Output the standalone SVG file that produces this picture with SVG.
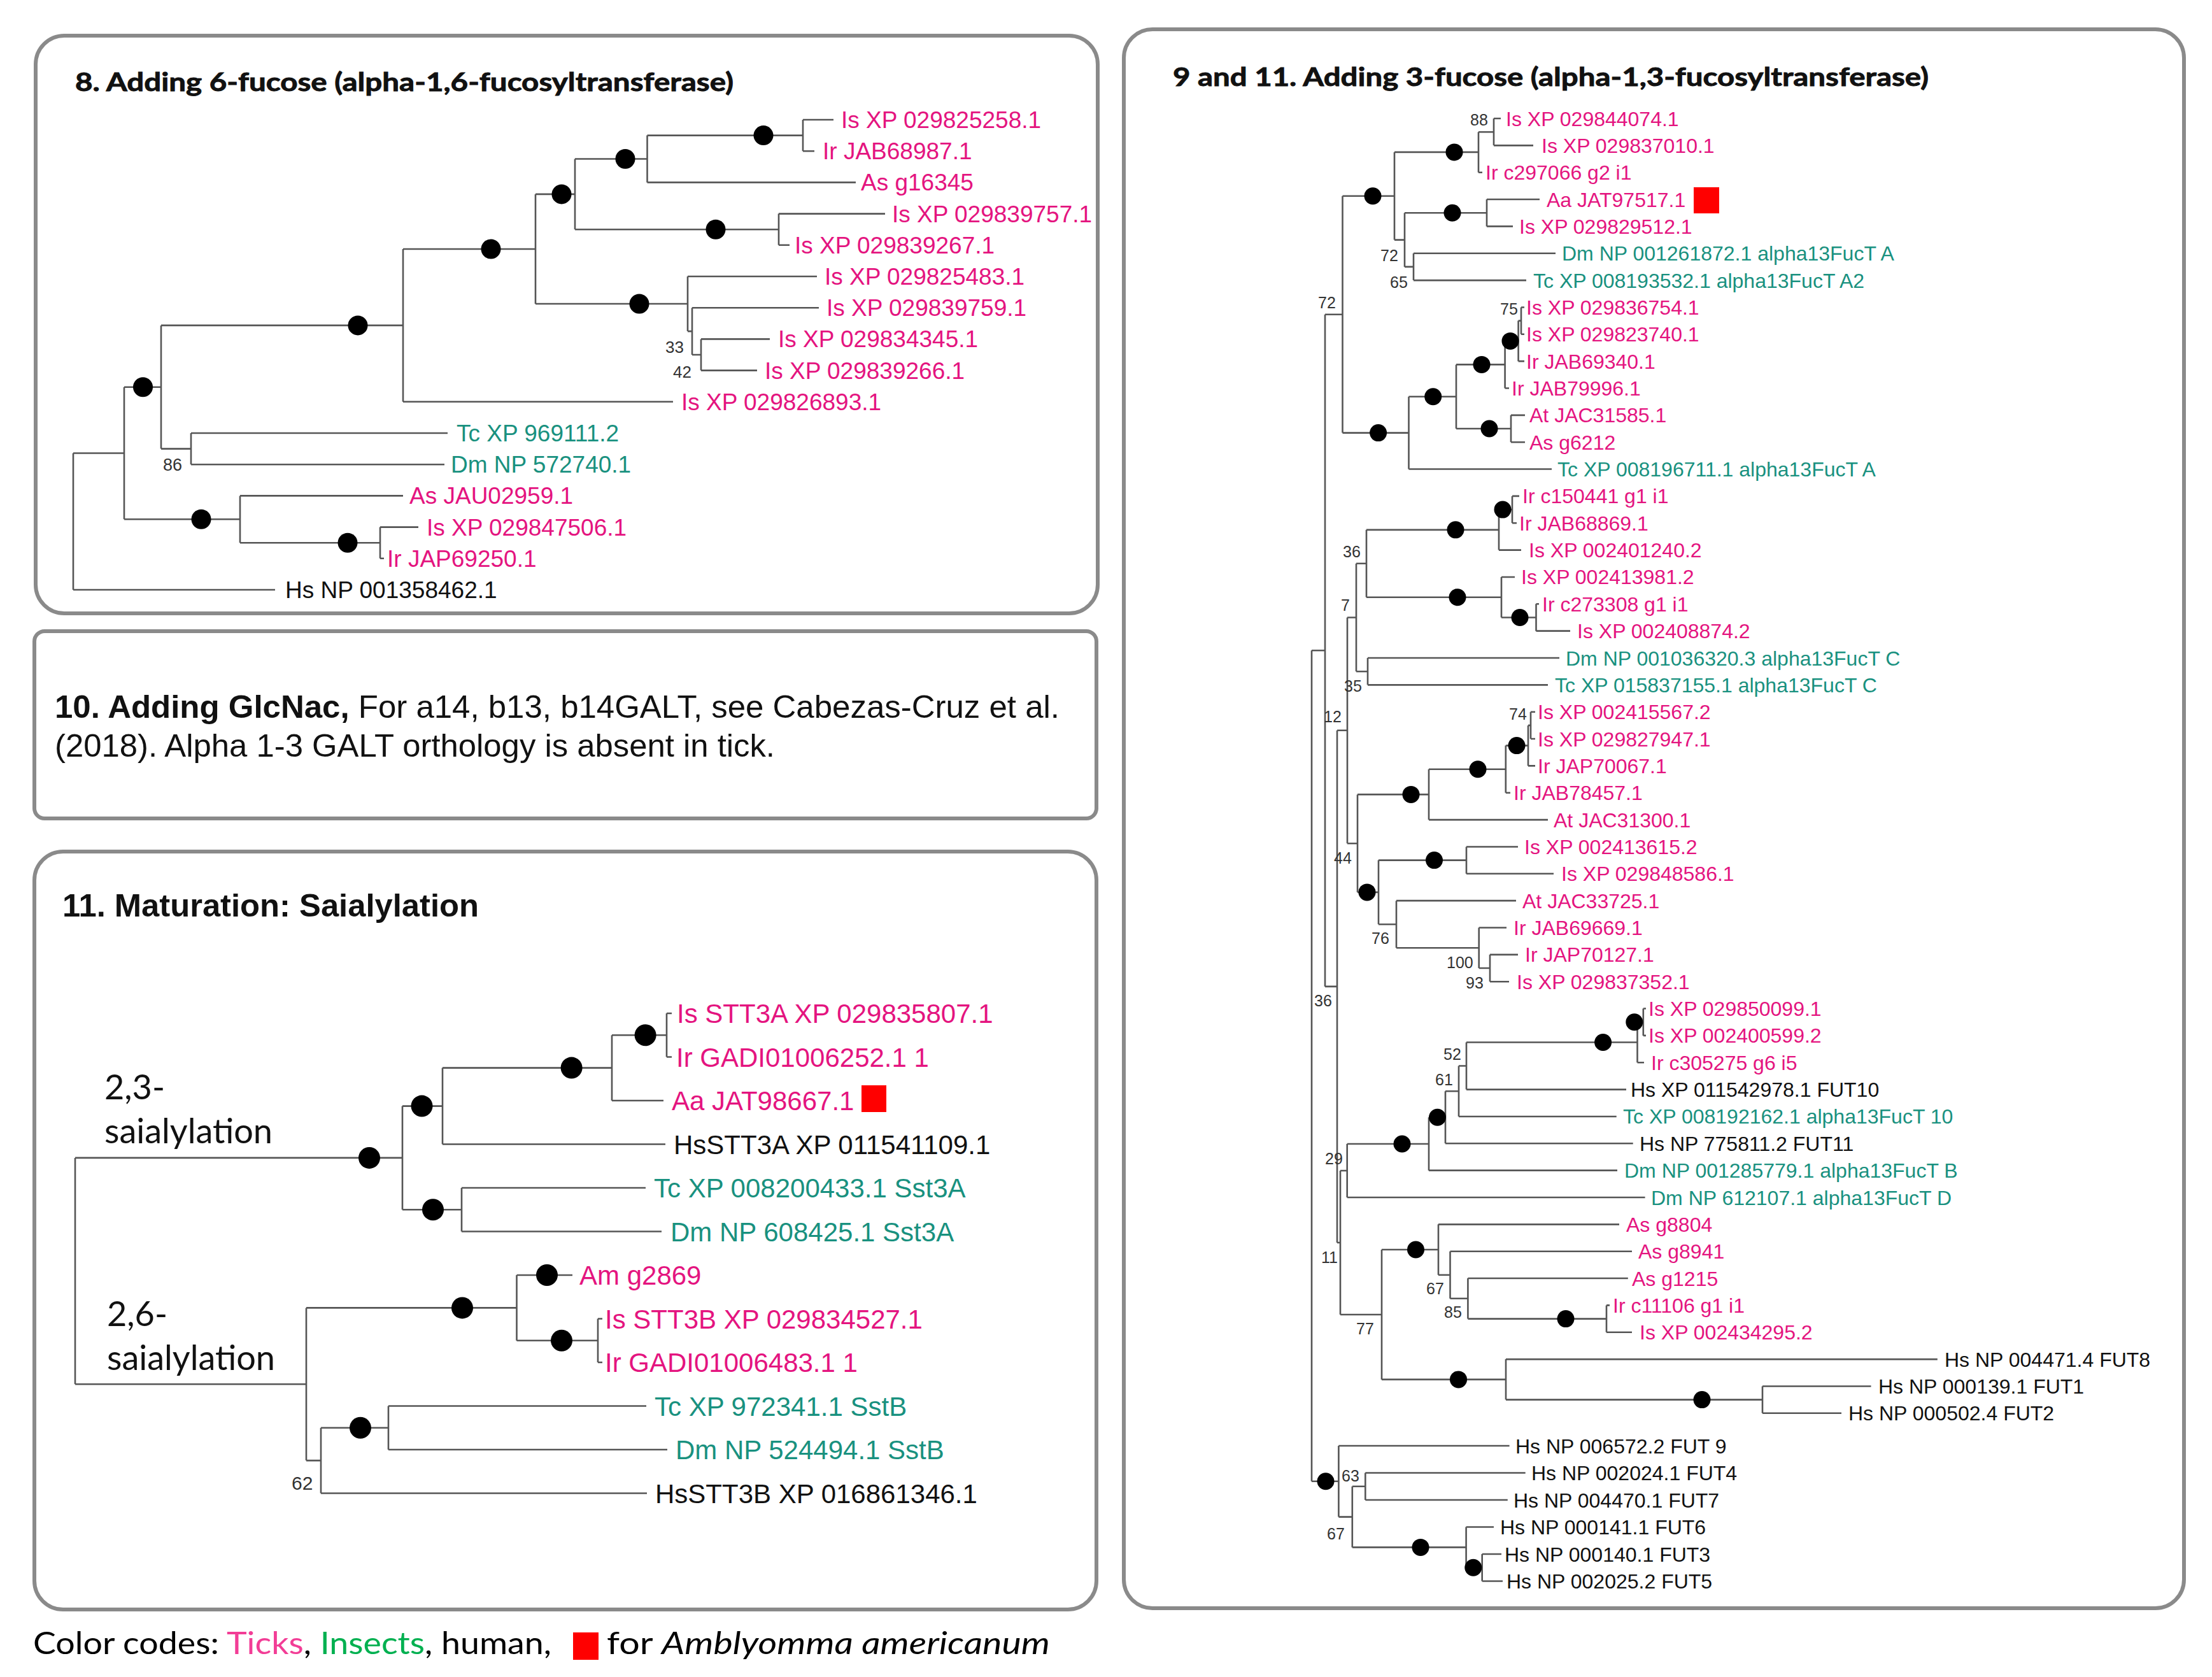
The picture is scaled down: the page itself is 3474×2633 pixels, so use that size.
<svg xmlns="http://www.w3.org/2000/svg" width="3474" height="2633" viewBox="0 0 3474 2633">
<style>
.box{fill:#fff;stroke:#8a8a8a;stroke-width:6}
.br{fill:none;stroke:#555;stroke-width:2.6}
.d{fill:#000}
.sq{fill:#ff0000}
.pk{fill:#e4147f}
.tl{fill:#19917f}
.hs{fill:#111}
.a{font-family:"Liberation Sans",Arial,sans-serif}
.l8{font-size:37px}
.l11{font-size:42px}
.l9{font-size:32px}
.bs{font-family:"Liberation Sans",Arial,sans-serif;fill:#333}
.cal{font-family:Lato,"Open Sans",sans-serif}
.ttl{font-family:Lato,"Open Sans",sans-serif;font-weight:700;font-size:41px;fill:#111;stroke:#111;stroke-width:0.9}
</style>
<rect width="3474" height="2633" fill="#fff"/>

<!-- Panel 8 -->
<g id="panel8">
<rect class="box" x="56" y="56" width="1668" height="907" rx="45"/>
<text id="p8-title" class="ttl" x="118" y="143" textLength="1034" lengthAdjust="spacingAndGlyphs">8. Adding 6-fucose (alpha-1,6-fucosyltransferase)</text>
<g id="p8-connectors">
<path class="br" d="M115 711.5V926M115 926H432M115 711.5H195
M195 607.8V815.3M195 607.8H253M195 815.3H377
M253 510.9V704.6M253 510.9H633M253 704.6H300
M300 680V729.2M300 680H703M300 729.2H698
M633 391V630.8M633 391H841M633 630.8H1057
M841 304.9V477M841 304.9H903M841 477H1080
M903 249.5V360.2M903 249.5H1016.5M903 360.2H1223
M1016.5 212.6V286.4M1016.5 212.6H1261M1016.5 286.4H1344
M1261 188V237.2M1261 188H1309M1261 237.2H1279
M1223 335.6V384.8M1223 335.6H1390M1223 384.8H1240
M1080 434V520.1M1080 434H1283M1080 520.1H1087
M1087 483.2V557M1087 483.2H1286M1087 557H1101
M1101 532.4V581.6M1101 532.4H1209M1101 581.6H1189
M377 778.4V852.2M377 778.4H633M377 852.2H597
M597 827.6V876.8M597 827.6H657M597 876.8H603"/>
</g>
<g id="p8-nodes">
<circle class="d" cx="1199" cy="212.6" r="15.5"/>
<circle class="d" cx="982" cy="249.5" r="15.5"/>
<circle class="d" cx="1124" cy="360.2" r="15.5"/>
<circle class="d" cx="882" cy="304.9" r="15.5"/>
<circle class="d" cx="1004" cy="477" r="15.5"/>
<circle class="d" cx="771" cy="391" r="15.5"/>
<circle class="d" cx="562" cy="510.9" r="15.5"/>
<circle class="d" cx="224.5" cy="607.8" r="15.5"/>
<circle class="d" cx="316" cy="815.3" r="15.5"/>
<circle class="d" cx="546" cy="852.2" r="15.5"/>
<text class="bs" x="256" y="739" font-size="27">86</text>
<text class="bs" x="1045" y="554" font-size="26">33</text>
<text class="bs" x="1057" y="593" font-size="26">42</text>
</g>
<g class="a l8">
<g id="p8-n1"><text class="pk" x="1321" y="201">Is XP 029825258.1</text></g>
<g id="p8-n2"><text class="pk" x="1292" y="250.2">Ir JAB68987.1</text></g>
<g id="p8-n3"><text class="pk" x="1352" y="299.4">As g16345</text></g>
<g id="p8-n4"><text class="pk" x="1401" y="348.6">Is XP 029839757.1</text></g>
<g id="p8-n5"><text class="pk" x="1248" y="397.8">Is XP 029839267.1</text></g>
<g id="p8-n6"><text class="pk" x="1295" y="447">Is XP 029825483.1</text></g>
<g id="p8-n7"><text class="pk" x="1298" y="496.2">Is XP 029839759.1</text></g>
<g id="p8-n8"><text class="pk" x="1222" y="545.4">Is XP 029834345.1</text></g>
<g id="p8-n9"><text class="pk" x="1201" y="594.6">Is XP 029839266.1</text></g>
<g id="p8-n10"><text class="pk" x="1070" y="643.8">Is XP 029826893.1</text></g>
<g id="p8-n11"><text class="tl" x="717" y="693">Tc XP 969111.2</text></g>
<g id="p8-n12"><text class="tl" x="708" y="742.2">Dm NP 572740.1</text></g>
<g id="p8-n13"><text class="pk" x="643" y="791.4">As JAU02959.1</text></g>
<g id="p8-n14"><text class="pk" x="670" y="840.6">Is XP 029847506.1</text></g>
<g id="p8-n15"><text class="pk" x="608" y="889.8">Ir JAP69250.1</text></g>
<g id="p8-n16"><text class="hs" x="448" y="939">Hs NP 001358462.1</text></g>
</g>
</g>

<!-- Panel 10 -->
<g id="panel10">
<rect class="box" x="54" y="991" width="1668" height="294" rx="16"/>
<text class="a" x="86" y="1127" font-size="50" fill="#111" textLength="1578" lengthAdjust="spacingAndGlyphs"><tspan font-weight="700">10. Adding GlcNac,</tspan> For a14, b13, b14GALT, see Cabezas-Cruz et al.</text>
<text class="a" x="86" y="1188" font-size="50" fill="#111" textLength="1131" lengthAdjust="spacingAndGlyphs">(2018). Alpha 1-3 GALT orthology is absent in tick.</text>
</g>

<!-- Panel 11 Sialylation -->
<g id="panel11">
<rect class="box" x="54" y="1337" width="1668" height="1190" rx="45"/>
<text id="p11-title" class="a" x="98" y="1439" font-size="50" font-weight="700" fill="#111" textLength="654" lengthAdjust="spacingAndGlyphs">11. Maturation: Saialylation</text>
<g id="p11-group-labels" class="cal" font-size="54" fill="#111">
<text x="164" y="1726">2,3-</text>
<text x="164" y="1795" textLength="264" lengthAdjust="spacingAndGlyphs">saialylation</text>
<text x="168" y="2082">2,6-</text>
<text x="168" y="2151" textLength="264" lengthAdjust="spacingAndGlyphs">saialylation</text>
</g>
<g id="p11-connectors">
<path class="br" d="M118 1817.9V2173.25M118 1817.9H632M118 2173.25H481
M632 1736.6V1899.25M632 1736.6H695M632 1899.25H725
M695 1676.6V1796.5M695 1676.6H961M695 1796.5H1045
M961 1625.25V1728M961 1625.25H1047M961 1728H1042
M1047 1591V1659.5M1047 1591H1055M1047 1659.5H1055
M725 1865V1933.5M725 1865H1014M725 1933.5H1039
M481 2053.4V2293.1M481 2053.4H811.5M481 2293.1H504
M811.5 2002V2104.75M811.5 2002H899M811.5 2104.75H939
M939 2070.5V2139M939 2070.5H946M939 2139H946
M504 2241.75V2344.5M504 2241.75H610M504 2344.5H1016
M610 2207.5V2276M610 2207.5H1015M610 2276H1048"/>
</g>
<g id="p11-nodes">
<circle class="d" cx="580" cy="1817.9" r="17"/>
<circle class="d" cx="662.5" cy="1736.6" r="17"/>
<circle class="d" cx="897.6" cy="1676.6" r="17"/>
<circle class="d" cx="1013.6" cy="1625.25" r="17"/>
<circle class="d" cx="680" cy="1899.25" r="17"/>
<circle class="d" cx="726" cy="2053.4" r="17"/>
<circle class="d" cx="859" cy="2002" r="17"/>
<circle class="d" cx="882" cy="2104.75" r="17"/>
<circle class="d" cx="566" cy="2241.75" r="17"/>
<text class="bs" x="458" y="2339" font-size="30">62</text>
</g>
<g class="a l11">
<g id="p11-n1"><text class="pk" x="1063" y="1606">Is STT3A XP 029835807.1</text></g>
<g id="p11-n2"><text class="pk" x="1062" y="1674.5">Ir GADI01006252.1 1</text></g>
<g id="p11-n3"><text class="pk" x="1055" y="1743">Aa JAT98667.1</text><rect class="sq" x="1353" y="1704" width="39" height="42"/></g>
<g id="p11-n4"><text class="hs" x="1058" y="1811.5">HsSTT3A XP 011541109.1</text></g>
<g id="p11-n5"><text class="tl" x="1027" y="1880">Tc XP 008200433.1 Sst3A</text></g>
<g id="p11-n6"><text class="tl" x="1053" y="1948.5">Dm NP 608425.1 Sst3A</text></g>
<g id="p11-n7"><text class="pk" x="910" y="2017">Am g2869</text></g>
<g id="p11-n8"><text class="pk" x="950" y="2085.5">Is STT3B XP 029834527.1</text></g>
<g id="p11-n9"><text class="pk" x="950" y="2154">Ir GADI01006483.1 1</text></g>
<g id="p11-n10"><text class="tl" x="1028" y="2222.5">Tc XP 972341.1 SstB</text></g>
<g id="p11-n11"><text class="tl" x="1061" y="2291">Dm NP 524494.1 SstB</text></g>
<g id="p11-n12"><text class="hs" x="1029" y="2359.5">HsSTT3B XP 016861346.1</text></g>
</g>
</g>

<!-- Panel 9 and 11 -->
<g id="panel9">
<rect class="box" x="1765" y="46" width="1665" height="2479" rx="45"/>
<text id="p9-title" class="ttl" x="1842" y="135" textLength="1187" lengthAdjust="spacingAndGlyphs">9 and 11. Adding 3-fucose (alpha-1,3-fucosyltransferase)</text>
<g id="p9-connectors">
<path class="br" d="M2060 1021.3V2325.8M2060 1021.3H2081M2060 2325.8H2102.4
M2081 493.7V1548.9M2081 493.7H2108.5M2081 1548.9H2100
M2108.5 307.7V679.6M2108.5 307.7H2190M2108.5 679.6H2212.5
M2190 238.9V376.6M2190 238.9H2322M2190 376.6H2206
M2322 207.2V270.7M2322 207.2H2346M2322 270.7H2328
M2346 186V228.35M2346 186H2357M2346 228.35H2408
M2206 334.2V418.9M2206 334.2H2335M2206 418.9H2220
M2335 313.05V355.4M2335 313.05H2418M2335 355.4H2376
M2220 397.75V440.1M2220 397.75H2443M2220 440.1H2397
M2212.5 622.7V736.55M2212.5 622.7H2287M2212.5 736.55H2437
M2287 572.4V673M2287 572.4H2363.6M2287 673H2373
M2363.6 535.4V609.5M2363.6 535.4H2384.6M2363.6 609.5H2370
M2384.6 503.6V567.15M2384.6 503.6H2389M2384.6 567.15H2394
M2389 482.45V524.8M2389 482.45H2394M2389 524.8H2394
M2373 651.85V694.2M2373 651.85H2395M2373 694.2H2395
M2100 1146.8V1951M2100 1146.8H2116M2100 1951H2105
M2116 969.5V1324.2M2116 969.5H2130M2116 1324.2H2132
M2130 884.8V1054.2M2130 884.8H2146M2130 1054.2H2148
M2146 831.85V937.7M2146 831.85H2354M2146 937.7H2358
M2354 800.1V863.6M2354 800.1H2375M2354 863.6H2389
M2375 778.9V821.25M2375 778.9H2386M2375 821.25H2382
M2358 905.95V969.5M2358 905.95H2379M2358 969.5H2412.5
M2412.5 948.3V990.65M2412.5 948.3H2417M2412.5 990.65H2466
M2148 1033V1075.35M2148 1033H2449M2148 1075.35H2431
M2132 1247.4V1400.9M2132 1247.4H2244M2132 1400.9H2165
M2244 1207.7V1287.1M2244 1207.7H2364.8M2244 1287.1H2431
M2364.8 1170.6V1244.75M2364.8 1170.6H2400M2364.8 1244.75H2372
M2400 1138.9V1202.4M2400 1138.9H2404M2400 1202.4H2411
M2404 1117.7V1160.05M2404 1117.7H2411M2404 1160.05H2411
M2165 1350.6V1451.2M2165 1350.6H2303M2165 1451.2H2193
M2303 1329.45V1371.8M2303 1329.45H2384M2303 1371.8H2440
M2193 1414.15V1488.3M2193 1414.15H2381M2193 1488.3H2322.7
M2322.7 1456.5V1520M2322.7 1456.5H2366M2322.7 1520H2340
M2340 1498.85V1541.2M2340 1498.85H2384M2340 1541.2H2370
M2105 1838V2064M2105 1838H2115.7M2105 2064H2170
M2115.7 1796V1880M2115.7 1796H2244M2115.7 1880H2583.6
M2244 1754.3V1837.65M2244 1754.3H2270M2244 1837.65H2540
M2270 1713.2V1795.3M2270 1713.2H2291M2270 1795.3H2564.7
M2291 1673.5V1752.95M2291 1673.5H2303M2291 1752.95H2538.7
M2303 1636.5V1710.6M2303 1636.5H2571.5M2303 1710.6H2554
M2571.5 1604.7V1668.25M2571.5 1604.7H2580.8M2571.5 1668.25H2582
M2580.8 1583.55V1625.9M2580.8 1583.55H2585M2580.8 1625.9H2585
M2170 1962V2165.9M2170 1962H2259M2170 2165.9H2365
M2259 1922.35V2001.75M2259 1922.35H2543M2259 2001.75H2277.5
M2277.5 1964.7V2038.8M2277.5 1964.7H2563M2277.5 2038.8H2305.4
M2305.4 2007.05V2070.6M2305.4 2007.05H2556.8M2305.4 2070.6H2523
M2523 2049.4V2091.75M2523 2049.4H2528M2523 2091.75H2563
M2365 2134.1V2197.6M2365 2134.1H3042.8M2365 2197.6H2768
M2768 2176.45V2218.8M2768 2176.45H2938.5M2768 2218.8H2892
M2102.4 2270V2381.6M2102.4 2270H2370.6M2102.4 2381.6H2123.8
M2123.8 2333.75V2429.4M2123.8 2333.75H2144.3M2123.8 2429.4H2302.6
M2144.3 2312.5V2355M2144.3 2312.5H2395.7M2144.3 2355H2367.8
M2302.6 2397.5V2461.25M2302.6 2397.5H2346M2302.6 2461.25H2327.7
M2327.7 2440V2482.5M2327.7 2440H2358M2327.7 2482.5H2360"/>
</g>
<g id="p9-nodes">
<circle class="d" cx="2284" cy="238.9" r="13.5"/>
<circle class="d" cx="2281" cy="334.2" r="13.5"/>
<circle class="d" cx="2156" cy="307.7" r="13.5"/>
<circle class="d" cx="2372" cy="535.4" r="13.5"/>
<circle class="d" cx="2327" cy="572.4" r="13.5"/>
<circle class="d" cx="2339" cy="673" r="13.5"/>
<circle class="d" cx="2250.7" cy="622.7" r="13.5"/>
<circle class="d" cx="2164.6" cy="679.6" r="13.5"/>
<circle class="d" cx="2360" cy="800.1" r="13.5"/>
<circle class="d" cx="2286" cy="831.85" r="13.5"/>
<circle class="d" cx="2387" cy="969.5" r="13.5"/>
<circle class="d" cx="2289" cy="937.7" r="13.5"/>
<circle class="d" cx="2382" cy="1170.6" r="13.5"/>
<circle class="d" cx="2321" cy="1207.7" r="13.5"/>
<circle class="d" cx="2216" cy="1247.4" r="13.5"/>
<circle class="d" cx="2252.5" cy="1350.6" r="13.5"/>
<circle class="d" cx="2147" cy="1400.9" r="13.5"/>
<circle class="d" cx="2566.8" cy="1604.7" r="13.5"/>
<circle class="d" cx="2517.6" cy="1636.5" r="13.5"/>
<circle class="d" cx="2257.5" cy="1754.3" r="13.5"/>
<circle class="d" cx="2202" cy="1796" r="13.5"/>
<circle class="d" cx="2223.5" cy="1962" r="13.5"/>
<circle class="d" cx="2459" cy="2070.6" r="13.5"/>
<circle class="d" cx="2290.5" cy="2165.9" r="13.5"/>
<circle class="d" cx="2673" cy="2197.6" r="13.5"/>
<circle class="d" cx="2082" cy="2325.8" r="13.5"/>
<circle class="d" cx="2231" cy="2429.4" r="13.5"/>
<circle class="d" cx="2313.8" cy="2461.25" r="13.5"/>
</g>
<g id="p9-bootstrap" class="bs" font-size="25">
<text x="2309" y="197">88</text>
<text x="2168" y="410">72</text>
<text x="2183" y="452">65</text>
<text x="2070" y="484">72</text>
<text x="2356" y="494">75</text>
<text x="2109" y="875">36</text>
<text x="2106" y="959">7</text>
<text x="2111" y="1086">35</text>
<text x="2079" y="1134">12</text>
<text x="2370" y="1130">74</text>
<text x="2095" y="1356">44</text>
<text x="2154" y="1482">76</text>
<text x="2272" y="1520">100</text>
<text x="2302" y="1552">93</text>
<text x="2064" y="1580">36</text>
<text x="2267" y="1664">52</text>
<text x="2254" y="1704">61</text>
<text x="2081" y="1828">29</text>
<text x="2075" y="1983">11</text>
<text x="2240" y="2032">67</text>
<text x="2268" y="2069">85</text>
<text x="2130" y="2095">77</text>
<text x="2107" y="2326">63</text>
<text x="2084" y="2417">67</text>
</g>
<g class="a l9">
<g id="p9-n1"><text class="pk" x="2365" y="197.5">Is XP 029844074.1</text></g>
<g id="p9-n2"><text class="pk" x="2421" y="239.85">Is XP 029837010.1</text></g>
<g id="p9-n3"><text class="pk" x="2333" y="282.2">Ir c297066 g2 i1</text></g>
<g id="p9-n4"><text class="pk" x="2429" y="324.55">Aa JAT97517.1</text><rect class="sq" x="2660" y="294" width="40" height="41"/></g>
<g id="p9-n5"><text class="pk" x="2386" y="366.9">Is XP 029829512.1</text></g>
<g id="p9-n6"><text class="tl" x="2453" y="409.25">Dm NP 001261872.1 alpha13FucT A</text></g>
<g id="p9-n7"><text class="tl" x="2408" y="451.6">Tc XP 008193532.1 alpha13FucT A2</text></g>
<g id="p9-n8"><text class="pk" x="2397" y="493.95">Is XP 029836754.1</text></g>
<g id="p9-n9"><text class="pk" x="2397" y="536.3">Is XP 029823740.1</text></g>
<g id="p9-n10"><text class="pk" x="2397" y="578.65">Ir JAB69340.1</text></g>
<g id="p9-n11"><text class="pk" x="2374" y="621">Ir JAB79996.1</text></g>
<g id="p9-n12"><text class="pk" x="2402" y="663.35">At JAC31585.1</text></g>
<g id="p9-n13"><text class="pk" x="2402" y="705.7">As g6212</text></g>
<g id="p9-n14"><text class="tl" x="2446" y="748.05">Tc XP 008196711.1 alpha13FucT A</text></g>
<g id="p9-n15"><text class="pk" x="2391" y="790.4">Ir c150441 g1 i1</text></g>
<g id="p9-n16"><text class="pk" x="2386" y="832.75">Ir JAB68869.1</text></g>
<g id="p9-n17"><text class="pk" x="2401" y="875.1">Is XP 002401240.2</text></g>
<g id="p9-n18"><text class="pk" x="2389" y="917.45">Is XP 002413981.2</text></g>
<g id="p9-n19"><text class="pk" x="2422" y="959.8">Ir c273308 g1 i1</text></g>
<g id="p9-n20"><text class="pk" x="2477" y="1002.15">Is XP 002408874.2</text></g>
<g id="p9-n21"><text class="tl" x="2459" y="1044.5">Dm NP 001036320.3 alpha13FucT C</text></g>
<g id="p9-n22"><text class="tl" x="2442" y="1086.85">Tc XP 015837155.1 alpha13FucT C</text></g>
<g id="p9-n23"><text class="pk" x="2415" y="1129.2">Is XP 002415567.2</text></g>
<g id="p9-n24"><text class="pk" x="2415" y="1171.55">Is XP 029827947.1</text></g>
<g id="p9-n25"><text class="pk" x="2415" y="1213.9">Ir JAP70067.1</text></g>
<g id="p9-n26"><text class="pk" x="2377" y="1256.25">Ir JAB78457.1</text></g>
<g id="p9-n27"><text class="pk" x="2440" y="1298.6">At JAC31300.1</text></g>
<g id="p9-n28"><text class="pk" x="2394" y="1340.95">Is XP 002413615.2</text></g>
<g id="p9-n29"><text class="pk" x="2452" y="1383.3">Is XP 029848586.1</text></g>
<g id="p9-n30"><text class="pk" x="2391" y="1425.65">At JAC33725.1</text></g>
<g id="p9-n31"><text class="pk" x="2377" y="1468">Ir JAB69669.1</text></g>
<g id="p9-n32"><text class="pk" x="2395" y="1510.35">Ir JAP70127.1</text></g>
<g id="p9-n33"><text class="pk" x="2382" y="1552.7">Is XP 029837352.1</text></g>
<g id="p9-n34"><text class="pk" x="2589" y="1595.05">Is XP 029850099.1</text></g>
<g id="p9-n35"><text class="pk" x="2589" y="1637.4">Is XP 002400599.2</text></g>
<g id="p9-n36"><text class="pk" x="2593" y="1679.75">Ir c305275 g6 i5</text></g>
<g id="p9-n37"><text class="hs" x="2561" y="1722.1">Hs XP 011542978.1 FUT10</text></g>
<g id="p9-n38"><text class="tl" x="2549" y="1764.45">Tc XP 008192162.1 alpha13FucT 10</text></g>
<g id="p9-n39"><text class="hs" x="2575" y="1806.8">Hs NP 775811.2 FUT11</text></g>
<g id="p9-n40"><text class="tl" x="2551" y="1849.15">Dm NP 001285779.1 alpha13FucT B</text></g>
<g id="p9-n41"><text class="tl" x="2593" y="1891.5">Dm NP 612107.1 alpha13FucT D</text></g>
<g id="p9-n42"><text class="pk" x="2554" y="1933.85">As g8804</text></g>
<g id="p9-n43"><text class="pk" x="2573" y="1976.2">As g8941</text></g>
<g id="p9-n44"><text class="pk" x="2563" y="2018.55">As g1215</text></g>
<g id="p9-n45"><text class="pk" x="2533" y="2060.9">Ir c11106 g1 i1</text></g>
<g id="p9-n46"><text class="pk" x="2575" y="2103.25">Is XP 002434295.2</text></g>
<g id="p9-n47"><text class="hs" x="3054" y="2145.6">Hs NP 004471.4 FUT8</text></g>
<g id="p9-n48"><text class="hs" x="2950" y="2187.95">Hs NP 000139.1 FUT1</text></g>
<g id="p9-n49"><text class="hs" x="2903" y="2230.3">Hs NP 000502.4 FUT2</text></g>
<g id="p9-n50"><text class="hs" x="2380" y="2281.5">Hs NP 006572.2 FUT 9</text></g>
<g id="p9-n51"><text class="hs" x="2405" y="2324">Hs NP 002024.1 FUT4</text></g>
<g id="p9-n52"><text class="hs" x="2377" y="2366.5">Hs NP 004470.1 FUT7</text></g>
<g id="p9-n53"><text class="hs" x="2356" y="2409">Hs NP 000141.1 FUT6</text></g>
<g id="p9-n54"><text class="hs" x="2363" y="2451.5">Hs NP 000140.1 FUT3</text></g>
<g id="p9-n55"><text class="hs" x="2366" y="2494">Hs NP 002025.2 FUT5</text></g>
</g>
</g>

<!-- Legend -->
<g id="legend" class="cal" font-size="48" fill="#000">
<text x="52" y="2597" textLength="814" lengthAdjust="spacingAndGlyphs">Color codes: <tspan fill="#f23d96">Ticks</tspan>, <tspan fill="#00b050">Insects</tspan>, human,</text>
<rect class="sq" x="900" y="2563" width="40" height="43"/>
<text x="953" y="2597" textLength="696" lengthAdjust="spacingAndGlyphs">for <tspan font-style="italic">Amblyomma americanum</tspan></text>
</g>
</svg>
